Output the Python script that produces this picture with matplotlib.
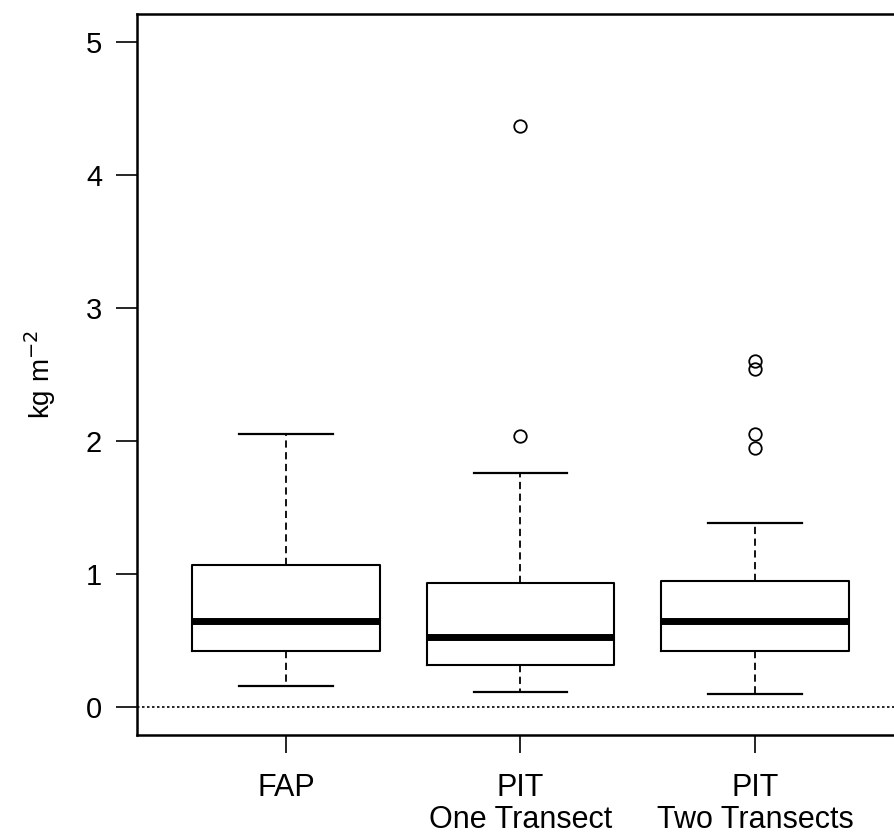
import matplotlib
matplotlib.use('Agg')
import matplotlib.pyplot as plt

# 三组样本的箱线图统计量 (kg m^-2)
groups = ['FAP', 'PIT\nOne Transect', 'PIT\nTwo Transects']
whislo = [0.16, 0.11, 0.10]
q1 = [0.42, 0.32, 0.42]
med = [0.65, 0.53, 0.65]
q3 = [1.07, 0.93, 0.95]
whishi = [2.05, 1.76, 1.38]
fliers = [[], [2.04, 4.37], [1.95, 2.05, 2.54, 2.60]]

stats = []
for i in range(len(groups)):
    stats.append({'whislo': whislo[i], 'q1': q1[i], 'med': med[i],
                  'q3': q3[i], 'whishi': whishi[i], 'fliers': fliers[i]})

plt.rcParams['font.family'] = ['Liberation Sans', 'DejaVu Sans']

fig = plt.figure(figsize=(8.95, 8.36), dpi=100)
ax = fig.add_axes([0.153, 0.1208, 0.853, 0.8625])

ax.bxp(stats, positions=[1, 2, 3], widths=0.8, showfliers=True,
       boxprops=dict(color='black', linewidth=1.5),
       medianprops=dict(color='black', linewidth=5, solid_capstyle='butt'),
       whiskerprops=dict(color='black', linewidth=1.3, linestyle=(0, (4, 2.5))),
       capprops=dict(color='black', linewidth=1.6),
       capwidths=0.4,
       flierprops=dict(marker='o', markersize=9, markerfacecolor='none',
                       markeredgecolor='black', markeredgewidth=1.3))

# 零值参考线
ax.axhline(0, color='black', linewidth=1.2, linestyle=(0, (1.5, 1.5)))

ax.set_xlim(0.3646, 3.62)
ax.set_ylim(-0.21, 5.21)
ax.set_yticks([0, 1, 2, 3, 4, 5])
ax.set_xticks([1, 2, 3])
ax.set_xticklabels(groups, fontsize=22, linespacing=1.1)
ax.tick_params(axis='y', labelsize=21, length=15, width=1.2, pad=10)
ax.tick_params(axis='x', length=13, width=1.2, pad=14)
ax.set_ylabel('kg m$^{-2}$', fontsize=20, labelpad=20)
for s in ax.spines.values():
    s.set_linewidth(1.8)

plt.savefig('out.png', dpi=100)
